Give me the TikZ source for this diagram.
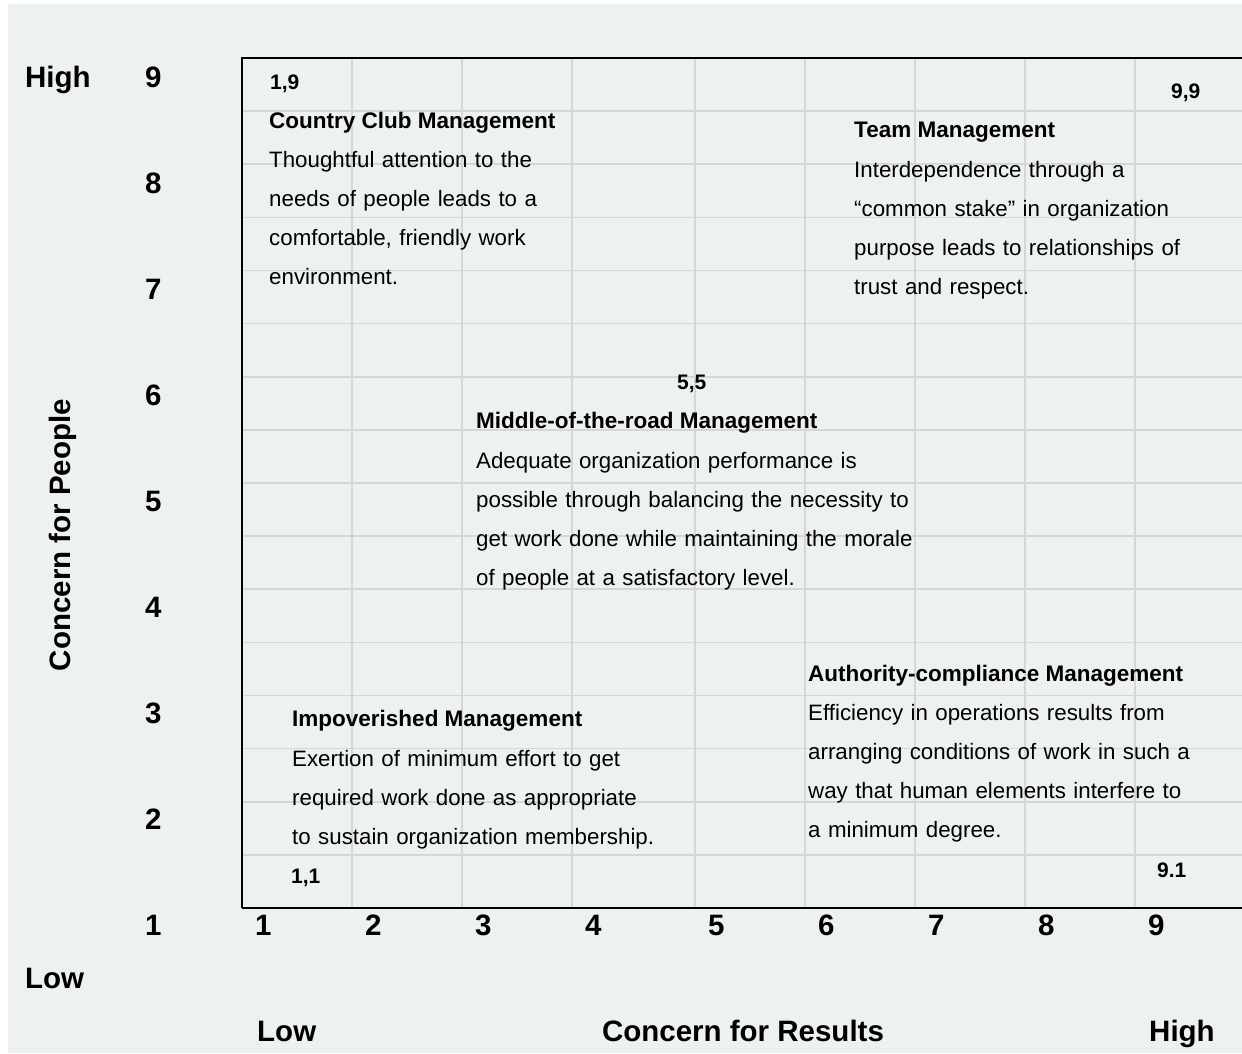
\documentclass[tikz,border=0pt]{standalone}
\usepackage{fontspec}
\setmainfont{Liberation Sans}
\definecolor{bgc}{RGB}{238,242,239}
\definecolor{gridc}{RGB}{214,214,214}
\begin{document}
\begin{tikzpicture}[x=1pt,y=-1pt,
  big/.style={font=\fontsize{29.5}{34}\selectfont\bfseries, inner sep=0pt, anchor=base west},
  pt/.style={font=\fontsize{21}{25}\selectfont\bfseries, inner sep=0pt, anchor=base west},
  ttl/.style={font=\fontsize{22.5}{27}\selectfont\bfseries, inner sep=0pt, anchor=base west},
  body/.style={font=\fontsize{22.3}{39.3}\selectfont, inner sep=0pt, anchor=base west, align=left, text width=480pt},
  gridln/.style={gridc, line width=1.6pt},
  frame/.style={black, line width=2pt}]
\useasboundingbox (0,0) rectangle (1242,1053);
\fill[white] (0,0) rectangle (1242,1053);
\fill[bgc] (8,4) rectangle (1242,1053);
% grid
\foreach \x in {352,462,572,695,805,915,1025,1135}
  \draw[gridln] (\x,58) -- (\x,908);
\foreach \i in {1,...,15}
  \draw[gridln] (242,{58+\i*53.125}) -- (1242,{58+\i*53.125});
% frame
\draw[frame] (1242,58) -- (242,58) -- (242,908);
\draw[black, line width=1.5pt] (242,908) -- (1242,908);
% y axis labels
\foreach \k in {1,...,9}
  \node[big] (y\k) at (145,{87+106*(9-\k)}) {\k};
\node[big] (yhigh) at (25,87) {High};
\node[big] (ylow) at (25,988) {Low};
\node[font=\fontsize{29.5}{34}\selectfont\bfseries, inner sep=0pt, rotate=90] (ylab) at (63,535) {Concern for People};
% x axis labels
\foreach \k/\x in {1/242,2/352,3/462,4/572,5/695,6/805,7/915,8/1025,9/1135}
  \node[big] (x\k) at (\x+13,935) {\k};
\node[big] (xlow) at (257,1041) {Low};
\node[font=\fontsize{29.5}{34}\selectfont\bfseries, inner sep=0pt, anchor=base] (xlab) at (743,1041) {Concern for Results};
\node[big] (xhigh) at (1149,1041) {High};
% corner labels
\node[pt] (p19) at (270,89) {1,9};
\node[pt] (p99) at (1171,98) {9,9};
\node[pt] (p55) at (677,389) {5,5};
\node[pt] (p11) at (291,883) {1,1};
\node[pt] (p91) at (1157,877) {9.1};
% blocks
\node[ttl] (cct) at (269,128) {Country Club Management};
\node[body] (ccb) at (269,167) {Thoughtful attention to the\\needs of people leads to a\\comfortable, friendly work\\environment.};
\node[ttl] (tmt) at (854,137) {Team Management};
\node[body] (tmb) at (854,177) {Interdependence through a\\“common stake” in organization\\purpose leads to relationships of\\trust and respect.};
\node[ttl] (mrt) at (476,428) {Middle-of-the-road Management};
\node[body] (mrb) at (476,468) {Adequate organization performance is\\possible through balancing the necessity to\\get work done while maintaining the morale\\of people at a satisfactory level.};
\node[ttl] (act) at (808,681) {Authority-compliance Management};
\node[body] (acb) at (808,720) {Efficiency in operations results from\\arranging conditions of work in such a\\way that human elements interfere to\\a minimum degree.};
\node[ttl] (imt) at (292,726) {Impoverished Management};
\node[body] (imb) at (292,766) {Exertion of minimum effort to get\\required work done as appropriate\\to sustain organization membership.};
\end{tikzpicture}
\end{document}
